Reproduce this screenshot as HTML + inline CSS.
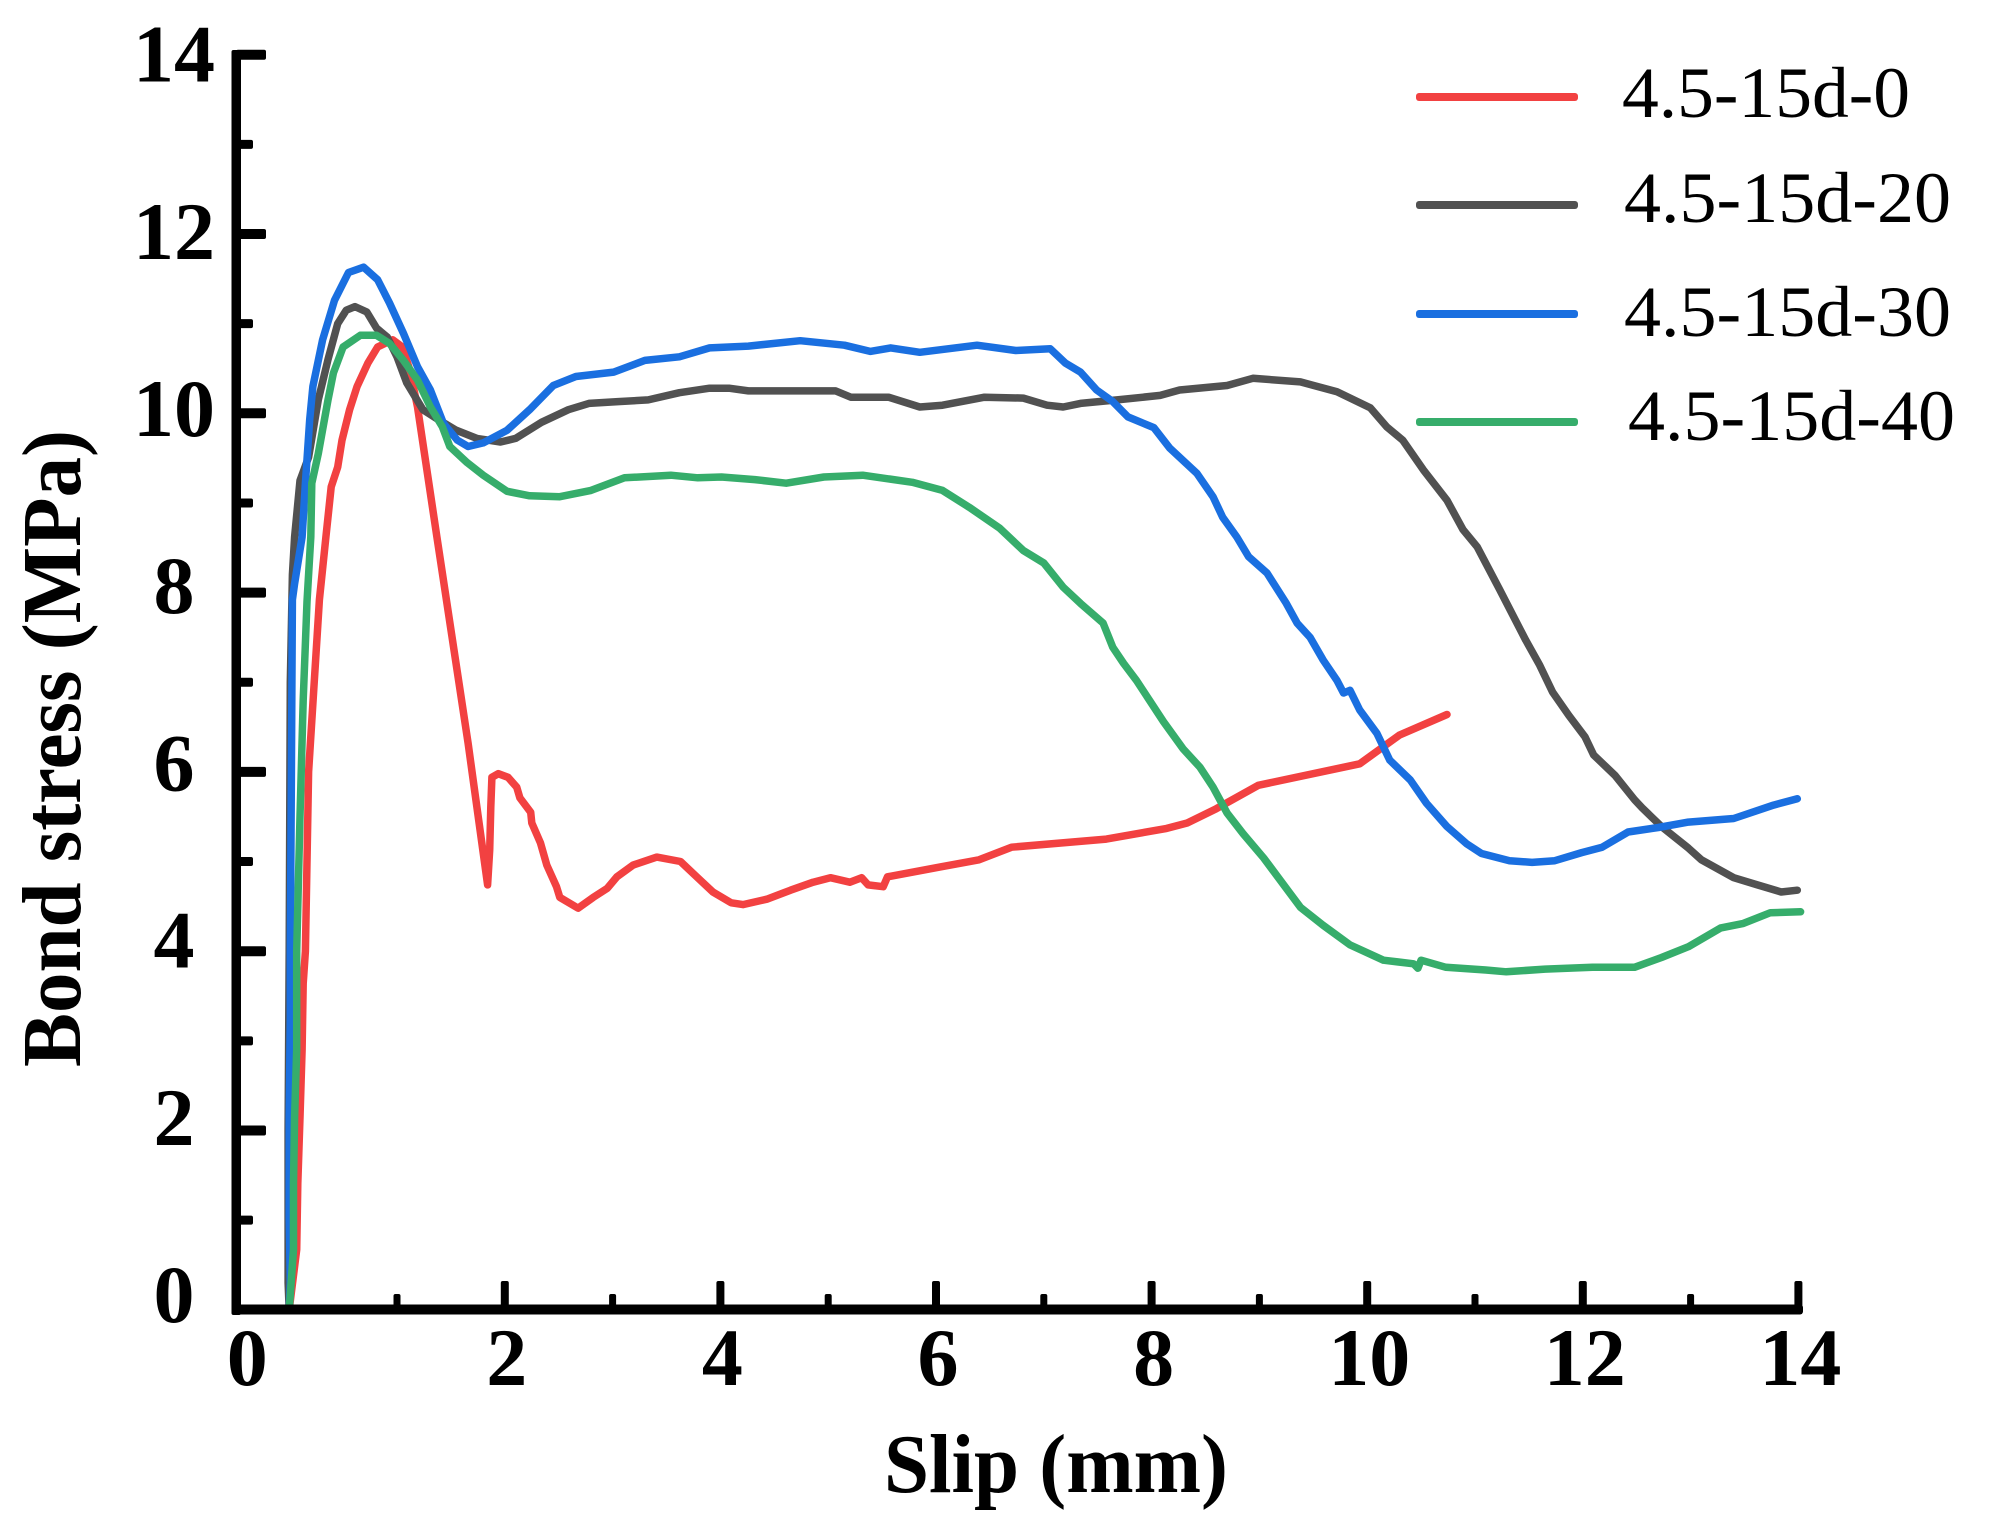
<!DOCTYPE html>
<html lang="en">
<head>
<meta charset="utf-8">
<title>Bond stress vs slip</title>
<style>
html,body{margin:0;padding:0;background:#fff;}
svg{display:block;}
text{font-family:"Liberation Serif",serif;fill:#000;}
.b{font-weight:bold;}
</style>
</head>
<body>
<svg id="chart" xmlns="http://www.w3.org/2000/svg" width="1995" height="1530" viewBox="0 0 1995 1530">
  <g id="series"></g>
  <g id="axes"></g>
  <text class="b" x="884" y="1492" font-size="84" textLength="344" lengthAdjust="spacingAndGlyphs">Slip (mm)</text>
  <text class="b" transform="translate(80,1067) rotate(-90)" font-size="84" textLength="637" lengthAdjust="spacingAndGlyphs">Bond stress (MPa)</text>
  <g>
    <rect x="1416" y="93" width="162" height="8" rx="3" fill="#f24141"/>
    <text x="1622" y="117" font-size="72" textLength="288" lengthAdjust="spacingAndGlyphs">4.5-15d-0</text>
    <rect x="1416" y="201" width="162" height="8" rx="3" fill="#515151"/>
    <text x="1624" y="222" font-size="72" textLength="327" lengthAdjust="spacingAndGlyphs">4.5-15d-20</text>
    <rect x="1416" y="310" width="162" height="8" rx="3" fill="#1a6fe0"/>
    <text x="1624" y="336" font-size="72" textLength="327" lengthAdjust="spacingAndGlyphs">4.5-15d-30</text>
    <rect x="1416" y="418" width="162" height="8" rx="3" fill="#36ad6b"/>
    <text x="1628" y="440" font-size="72" textLength="327" lengthAdjust="spacingAndGlyphs">4.5-15d-40</text>
  </g>
</svg>
<script>
var xMajorTicks = [2, 4, 6, 8, 10, 12, 14];
var xMinorTicks = [1, 3, 5, 7, 9, 11, 13];
var yMajorTicks = [0, 2, 4, 6, 8, 10, 12, 14];
var yMinorTicks = [1, 3, 5, 7, 9, 11, 13];
var xTickLabels = ['0', '2', '4', '6', '8', '10', '12', '14'];
var yTickLabels = ['0', '2', '4', '6', '8', '10', '12', '14'];

var slipRed = [0, 0.07, 0.08, 0.10, 0.12, 0.13, 0.15, 0.18, 0.28, 0.34, 0.39, 0.45, 0.49, 0.56, 0.63, 0.73, 0.82, 0.96, 1.05, 1.12, 1.19, 1.37, 1.66, 1.84, 1.86, 1.87, 1.88, 1.94, 2.03, 2.11, 2.14, 2.24, 2.25, 2.33, 2.39, 2.48, 2.51, 2.68, 2.82, 2.95, 3.04, 3.19, 3.41, 3.63, 3.78, 3.93, 4.10, 4.21, 4.43, 4.65, 4.86, 5.02, 5.20, 5.31, 5.37, 5.51, 5.55, 6.04, 6.40, 6.70, 7.58, 8.14, 8.33, 8.60, 8.99, 9.93, 10.30, 10.74];
var stressRed = [0, 0.67, 1.41, 2.15, 2.90, 3.64, 4.00, 6.00, 7.92, 8.62, 9.18, 9.40, 9.70, 10.04, 10.30, 10.56, 10.74, 10.82, 10.74, 10.48, 10.07, 8.62, 6.32, 4.74, 5.13, 5.61, 5.94, 5.98, 5.94, 5.83, 5.71, 5.55, 5.43, 5.21, 4.96, 4.72, 4.60, 4.48, 4.60, 4.70, 4.83, 4.96, 5.05, 5.00, 4.83, 4.66, 4.54, 4.52, 4.58, 4.68, 4.77, 4.82, 4.77, 4.82, 4.74, 4.72, 4.83, 4.94, 5.02, 5.16, 5.25, 5.37, 5.43, 5.59, 5.85, 6.09, 6.41, 6.64];

var slipGray = [0, -0.01, -0.01, 0, 0.01, 0.03, 0.05, 0.10, 0.18, 0.27, 0.36, 0.45, 0.53, 0.61, 0.72, 0.81, 0.91, 1.00, 1.09, 1.24, 1.37, 1.55, 1.74, 1.96, 2.10, 2.34, 2.59, 2.78, 3.05, 3.33, 3.62, 3.90, 4.08, 4.26, 4.61, 5.07, 5.21, 5.56, 5.85, 6.06, 6.45, 6.81, 7.03, 7.18, 7.34, 7.68, 8.08, 8.26, 8.70, 8.94, 9.38, 9.72, 10.03, 10.18, 10.33, 10.52, 10.74, 10.89, 11.02, 11.23, 11.47, 11.60, 11.72, 11.87, 12.02, 12.10, 12.30, 12.48, 12.55, 12.73, 12.98, 13.10, 13.40, 13.62, 13.84, 13.99];
var stressGray = [0, 0.30, 2.00, 4.00, 7.00, 8.20, 8.62, 9.25, 9.51, 10.15, 10.60, 11.00, 11.15, 11.19, 11.13, 10.95, 10.85, 10.63, 10.34, 10.04, 9.94, 9.81, 9.72, 9.68, 9.72, 9.90, 10.04, 10.11, 10.13, 10.15, 10.23, 10.28, 10.28, 10.25, 10.25, 10.25, 10.18, 10.18, 10.07, 10.09, 10.18, 10.17, 10.09, 10.07, 10.11, 10.15, 10.20, 10.26, 10.31, 10.39, 10.35, 10.24, 10.06, 9.85, 9.70, 9.37, 9.03, 8.70, 8.51, 8.03, 7.47, 7.19, 6.89, 6.63, 6.39, 6.19, 5.96, 5.69, 5.60, 5.39, 5.15, 5.02, 4.82, 4.74, 4.66, 4.68];

var slipBlue = [0, 0.01, 0, 0, 0.01, 0.01, 0.02, 0.03, 0.05, 0.12, 0.15, 0.19, 0.22, 0.31, 0.42, 0.55, 0.69, 0.82, 0.93, 1.06, 1.19, 1.31, 1.43, 1.56, 1.66, 1.80, 2.02, 2.23, 2.45, 2.66, 3.01, 3.30, 3.62, 3.90, 4.26, 4.74, 5.15, 5.39, 5.58, 5.85, 6.38, 6.74, 7.06, 7.20, 7.34, 7.49, 7.64, 7.78, 8.02, 8.17, 8.42, 8.57, 8.66, 8.79, 8.90, 9.07, 9.25, 9.35, 9.47, 9.59, 9.72, 9.78, 9.84, 9.93, 10.09, 10.21, 10.40, 10.55, 10.74, 10.92, 11.06, 11.32, 11.53, 11.74, 11.99, 12.18, 12.42, 12.70, 12.98, 13.40, 13.77, 13.99];
var stressBlue = [0, 0.30, 1.03, 2.15, 3.27, 4.00, 6.00, 7.92, 8.10, 8.62, 9.22, 9.93, 10.30, 10.82, 11.26, 11.57, 11.63, 11.49, 11.23, 10.89, 10.52, 10.26, 9.89, 9.70, 9.63, 9.67, 9.81, 10.04, 10.31, 10.41, 10.46, 10.59, 10.63, 10.73, 10.75, 10.81, 10.76, 10.69, 10.73, 10.68, 10.76, 10.70, 10.72, 10.56, 10.46, 10.26, 10.13, 9.96, 9.84, 9.61, 9.33, 9.07, 8.84, 8.62, 8.40, 8.22, 7.88, 7.66, 7.50, 7.25, 7.02, 6.88, 6.91, 6.69, 6.43, 6.13, 5.91, 5.65, 5.39, 5.20, 5.09, 5.01, 4.99, 5.01, 5.10, 5.16, 5.33, 5.38, 5.44, 5.48, 5.63, 5.70];

var slipGreen = [0, 0.04, 0.04, 0.05, 0.07, 0.07, 0.10, 0.13, 0.165, 0.20, 0.21, 0.27, 0.36, 0.41, 0.50, 0.66, 0.81, 0.93, 1.06, 1.19, 1.31, 1.42, 1.49, 1.65, 1.80, 2.02, 2.23, 2.51, 2.80, 3.11, 3.54, 3.79, 4.01, 4.32, 4.61, 4.96, 5.32, 5.78, 6.06, 6.31, 6.59, 6.81, 7.00, 7.18, 7.34, 7.55, 7.64, 7.74, 7.86, 7.98, 8.11, 8.29, 8.45, 8.57, 8.70, 8.85, 9.04, 9.38, 9.59, 9.84, 10.15, 10.43, 10.47, 10.50, 10.73, 11.10, 11.29, 11.65, 12.09, 12.48, 12.73, 12.98, 13.28, 13.49, 13.74, 14.02];
var stressGreen = [0, 0.67, 1.41, 2.15, 2.90, 4.00, 5.50, 6.80, 7.90, 8.62, 9.22, 9.55, 10.15, 10.45, 10.74, 10.87, 10.87, 10.78, 10.59, 10.37, 10.07, 9.85, 9.63, 9.45, 9.31, 9.13, 9.08, 9.07, 9.14, 9.28, 9.31, 9.28, 9.29, 9.26, 9.22, 9.29, 9.31, 9.23, 9.14, 8.95, 8.72, 8.47, 8.33, 8.06, 7.88, 7.66, 7.39, 7.21, 7.02, 6.80, 6.56, 6.26, 6.05, 5.83, 5.54, 5.31, 5.04, 4.49, 4.29, 4.07, 3.90, 3.86, 3.81, 3.90, 3.82, 3.79, 3.77, 3.80, 3.82, 3.82, 3.93, 4.05, 4.26, 4.31, 4.43, 4.44];

var SVGNS = 'http://www.w3.org/2000/svg';
var xMin = -0.5;
function xScale(s) { return 289.2 + 107.8 * s; }
function yScale(v) { return 1309.8 - 89.65 * v; }
function yLabelBase(v) { return 1321 - 88.6 * v; }
function xLabelCenter(t) { return t === 0 ? xScale(xMin) + 12 : xScale(t) + 2; }

var axes = document.getElementById('axes');
var seriesG = document.getElementById('series');

function shape(tag, parent, attrs) {
  var n = document.createElementNS(SVGNS, tag);
  for (var k in attrs) n.setAttribute(k, attrs[k]);
  parent.appendChild(n);
  return n;
}

function drawSeries(name, xs, ys, color) {
  var d = '';
  for (var i = 0; i < xs.length; i++) {
    d += (i ? 'L' : 'M') + xScale(xs[i]).toFixed(1) + ' ' + yScale(ys[i]).toFixed(1);
  }
  var p = shape('path', seriesG, { d: d, fill: 'none', stroke: color, 'stroke-width': 7.5, 'stroke-linejoin': 'round', 'stroke-linecap': 'round' });
  
  
}
drawSeries('series-4.5-15d-0', slipRed, stressRed, '#f24141');
drawSeries('series-4.5-15d-20', slipGray, stressGray, '#515151');
drawSeries('series-4.5-15d-30', slipBlue, stressBlue, '#1a6fe0');
drawSeries('series-4.5-15d-40', slipGreen, stressGreen, '#36ad6b');

var yAxisLine = shape('rect', axes, { x: 231.5, y: 50, width: 9.5, height: 1265, rx: 2, fill: '#000' });


var xAxisLine = shape('rect', axes, { x: 231.5, y: 1304.5, width: 1571.5, height: 10, rx: 3, fill: '#000' });



xMajorTicks.forEach(function (t) {
  var r = shape('rect', axes, { x: xScale(t) - 4, y: 1281, width: 8, height: 26, rx: 2, fill: '#000' });
  
  
});
xMinorTicks.forEach(function (t) {
  var r = shape('rect', axes, { x: xScale(t) - 3.5, y: 1294, width: 7, height: 13, rx: 2, fill: '#000' });
  
  
});
yMajorTicks.forEach(function (t) {
  if (t === 0) return;
  var r = shape('rect', axes, { x: 236, y: yScale(t) - 5, width: 30, height: 10, rx: 2, fill: '#000' });
  
  
});
yMinorTicks.forEach(function (t) {
  var r = shape('rect', axes, { x: 236, y: yScale(t) - 4.5, width: 17, height: 9, rx: 2, fill: '#000' });
  
  
});

xTickLabels.forEach(function (lab) {
  var n = shape('text', axes, { x: xLabelCenter(Number(lab)), y: 1385, 'font-size': 82, 'text-anchor': 'middle', 'class': 'b' });
  n.textContent = lab;
  
  
});
yTickLabels.forEach(function (lab) {
  var n = shape('text', axes, { x: 174, y: yLabelBase(Number(lab)) + 1, 'font-size': 82, 'text-anchor': 'middle', 'class': 'b' });
  n.textContent = lab;
  
  
});
</script>
</body>
</html>
